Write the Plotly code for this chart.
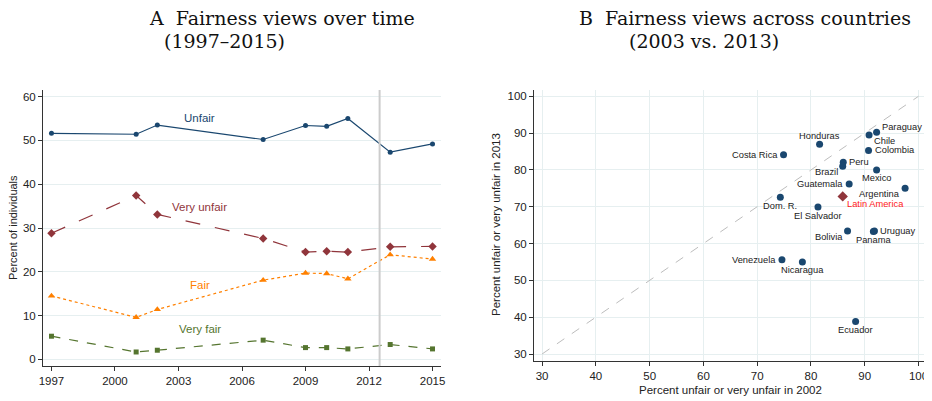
import plotly.graph_objects as go

# ---- Panel A data ----
years = [1997, 2001, 2002, 2007, 2009, 2010, 2011, 2013, 2015]
unfair = [51.6, 51.4, 53.5, 50.2, 53.4, 53.2, 55.0, 47.3, 49.2]
very_unfair = [28.8, 37.4, 33.1, 27.6, 24.5, 24.7, 24.5, 25.7, 25.8]
fair = [14.5, 9.6, 11.4, 18.1, 19.7, 19.6, 18.4, 23.9, 22.9]
very_fair = [5.3, 1.7, 2.1, 4.4, 2.7, 2.7, 2.4, 3.4, 2.4]
break_year = 2012.5
label_year = 2004
label_y = [55.0, 34.9, 17.1, 7.0]
series_names = ["Unfair", "Very unfair", "Fair", "Very fair"]
year_ticks = [1997, 2000, 2003, 2006, 2009, 2012, 2015]
pct_ticks = [0, 10, 20, 30, 40, 50, 60]

# ---- Panel B data ----
countries = ["Paraguay", "Chile", "Honduras", "Colombia", "Costa Rica", "Peru", "Brazil",
             "Mexico", "Guatemala", "Argentina", "Dom. R.", "El Salvador", "Bolivia",
             "Uruguay", "Panama", "Venezuela", "Nicaragua", "Ecuador"]
x2002 = [92.2, 90.8, 81.6, 90.7, 74.9, 86.0, 85.9, 92.2, 87.1, 97.5, 74.3, 81.3, 86.8,
         91.8, 91.6, 74.6, 78.4, 88.3]
y2013 = [90.2, 89.5, 87.0, 85.3, 84.1, 82.1, 81.0, 80.0, 76.2, 75.0, 72.6, 69.9, 63.4,
         63.4, 63.3, 55.6, 55.0, 38.8]
latam_x = [85.9]
latam_y = [72.8]
latam_name = ["Latin America"]
diag = [30, 100]
scatter_ticks = [30, 40, 50, 60, 70, 80, 90, 100]

# label placement (clock positions, as in the original)
label_clock = {"Paraguay": 2, "Chile": 4, "Honduras": 12, "Colombia": 3, "Costa Rica": 9,
               "Peru": 3, "Brazil": 7, "Mexico": 6, "Guatemala": 9, "Argentina": 7,
               "Dom. R.": 6, "El Salvador": 6, "Bolivia": 7, "Uruguay": 3, "Panama": 6,
               "Venezuela": 9, "Nicaragua": 6, "Ecuador": 6, "Latin America": 5}
clock_style = {2: ("left", 4, 5), 3: ("left", 5, 0), 4: ("left", 4, -6), 5: ("left", 3, -7.5),
               6: ("center", 0, -8.5), 7: ("right", -4, -6), 9: ("right", -5, 0),
               12: ("center", 0, 8)}

NAVY = "#1a476f"
MAROON = "#90353b"
ORANGE = "#ff8000"
GREEN = "#55752f"
GRID = "#e6eff0"
SANS = "Liberation Sans, Arial, sans-serif"
SERIF = "DejaVu Serif, serif"

# page geometry (the browser page adds an 8px body margin)
OFF = 8
W, H = 932 - OFF, 401 - OFF
ML, MR, MT, MB = 43 - OFF, 7, 90 - OFF, 35
PW, PH = W - ML - MR, H - MT - MB


def px(x):
    return (x - OFF - ML) / PW


def py(y):
    return (H - MB - (y - OFF)) / PH


fig = go.Figure()

styles = [
    (unfair, NAVY, "solid", "circle", 5),
    (very_unfair, MAROON, "longdash", "diamond", 6.5),
    (fair, ORANGE, "dot", "triangle-up", 6.5),
    (very_fair, GREEN, "dash", "square", 5),
]
for (vals, col, dash, sym, ms), name, ly in zip(styles, series_names, label_y):
    fig.add_trace(go.Scatter(x=years, y=vals, mode="lines+markers", name=name,
                             line=dict(color=col, width=1.2, dash=dash),
                             marker=dict(color=col, symbol=sym, size=ms),
                             xaxis="x", yaxis="y", showlegend=False))
    fig.add_annotation(x=label_year, y=ly, xref="x", yref="y", text=name, showarrow=False,
                       xanchor="center", yanchor="middle",
                       font=dict(family=SANS, size=11.5, color=col))

fig.add_shape(type="line", xref="x", yref="y domain", x0=break_year, x1=break_year, y0=0, y1=1,
              line=dict(color="#cccccc", width=2))

# Panel B
fig.add_trace(go.Scatter(x=diag, y=diag, mode="lines", line=dict(color="#bdbdbd", width=1, dash="dash"),
                         xaxis="x2", yaxis="y2", showlegend=False, hoverinfo="skip"))
fig.add_trace(go.Scatter(x=x2002, y=y2013, mode="markers", text=countries,
                         marker=dict(color=NAVY, size=7),
                         xaxis="x2", yaxis="y2", showlegend=False))
fig.add_trace(go.Scatter(x=latam_x, y=latam_y, mode="markers", text=latam_name,
                         marker=dict(color=MAROON, size=8, symbol="diamond"),
                         xaxis="x2", yaxis="y2", showlegend=False))


def add_label(name, x, y, color):
    xa, dx, dy = clock_style[label_clock[name]]
    fig.add_annotation(x=x, y=y, xref="x2", yref="y2", text=name, showarrow=False,
                       xanchor=xa, yanchor="middle", xshift=dx, yshift=dy, borderpad=0,
                       font=dict(family=SANS, size=9.3, color=color))


for name, x, y in zip(countries, x2002, y2013):
    add_label(name, x, y, "#222")
for name, x, y in zip(latam_name, latam_x, latam_y):
    add_label(name, x, y, "#ff2020")

axis_common = dict(showline=True, linecolor="#333", linewidth=1, ticks="outside", ticklen=4,
                   tickcolor="#333", zeroline=False, automargin=False,
                   tickfont=dict(family=SANS, size=11.5, color="#222"))

fig.update_layout(
    width=W, height=H, margin=dict(l=ML, r=MR, t=MT, b=MB, autoexpand=False),
    paper_bgcolor="white", plot_bgcolor="white",
    xaxis=dict(domain=[0, px(441)], range=[1996.6, 2015.4], tickvals=year_ticks,
               showgrid=False, anchor="y", **axis_common),
    yaxis=dict(domain=[0, 1], range=[-1.5, 61.5], tickvals=pct_ticks,
               showgrid=True, gridcolor=GRID, gridwidth=1, anchor="x", **axis_common),
    xaxis2=dict(domain=[px(534), 1], range=[28.5, 101.2], tickvals=scatter_ticks,
                showgrid=True, gridcolor=GRID, anchor="y2", **axis_common),
    yaxis2=dict(domain=[py(361), 1], range=[28.1, 101.7], tickvals=scatter_ticks,
                showgrid=True, gridcolor=GRID, anchor="x2", **axis_common),
)

# axis titles
fig.add_annotation(x=px(13), y=py(228), xref="paper", yref="paper", text="Percent of individuals",
                   xanchor="center", yanchor="middle", borderpad=0,
                   textangle=-90, showarrow=False, font=dict(family=SANS, size=11, color="#222"))
fig.add_annotation(x=px(730), y=py(390), xref="paper", yref="paper", xanchor="center", yanchor="middle",
                   text="Percent unfair or very unfair in 2002", showarrow=False,
                   font=dict(family=SANS, size=11.5, color="#222"))
fig.add_annotation(x=px(496), y=py(225), xref="paper", yref="paper", xanchor="center", yanchor="middle",
                   text="Percent unfair or very unfair in 2013", textangle=-90, showarrow=False,
                   font=dict(family=SANS, size=11.5, color="#222"))

# titles
titles = [("A  Fairness views over time", 148, 18), ("(1997–2015)", 163, 41),
          ("B  Fairness views across countries", 578, 18), ("(2003 vs. 2013)", 628, 41)]
for txt, tx, ty in titles:
    fig.add_annotation(x=px(tx), y=py(ty), xref="paper", yref="paper", text=txt, showarrow=False,
                       xanchor="left", yanchor="middle", borderpad=0,
                       font=dict(family=SERIF, size=19, color="#111"))

fig.write_html("out.html")
